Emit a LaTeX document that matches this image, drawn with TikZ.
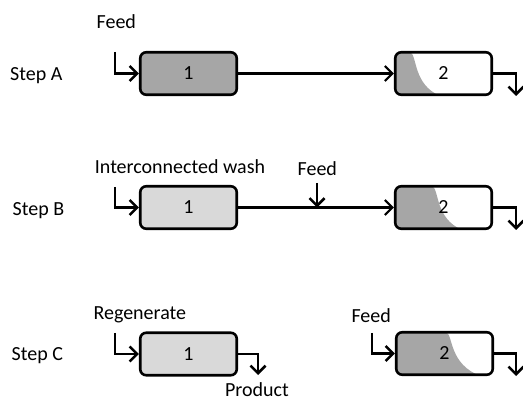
\documentclass[tikz,border=0pt]{standalone}
\usepackage{fontspec}
\setmainfont{Carlito}
\usetikzlibrary{arrows.meta,calc}
\definecolor{darkfill}{HTML}{A6A6A6}
\definecolor{lightfill}{HTML}{D9D9D9}
\tikzset{
  col/.style={draw=black, line width=2.6pt, rounded corners=6pt, minimum width=96.5pt,
    minimum height=42.5pt, inner sep=0pt, font=\fontsize{20}{24}\selectfont},
  flow/.style={line width=2.6pt, -{Straight Barb[length=7.5pt,width=15pt]}},
  link/.style={line width=2.2pt, -{Straight Barb[length=7.5pt,width=15pt]}},
  lbl/.style={font=\fontsize{20}{24}\selectfont, inner sep=0pt, anchor=base},
  steplbl/.style={font=\fontsize{20}{24}\selectfont, inner sep=0pt, anchor=base west},
  shadebox/.style 2 args={fill=white, path picture={
    \fill[darkfill]
      ($(path picture bounding box.north west)+(#1,-3)$)
      .. controls ($(path picture bounding box.north west)+(#1+12,4)$)
      and ($(path picture bounding box.north west)+(#1+8,32)$)
      .. ($(path picture bounding box.north west)+(#2,46)$)
      -- ($(path picture bounding box.north west)+(-4,46)$)
      -- ($(path picture bounding box.north west)+(-4,-3)$) -- cycle;}}
}
\begin{document}
\begin{tikzpicture}[x=1pt,y=-1pt]
\useasboundingbox (0,0) rectangle (523,401);

% Step A
\node[steplbl] (stepA) at (10,80.5) {Step A};
\node[lbl] (feedA) at (116.3,28.3) {Feed};
\node[col, fill=darkfill] (a1) at (188.5,73.5) {1};
\node[col, shadebox={10}{50}] (a2) at (443.5,73.5) {2};
\coordinate (ainA) at (115,52);
\coordinate (aoutA) at (516,96);
\draw[flow] (ainA) |- (a1.west);
\draw[link] (a1.east) -- (a2.west);
\draw[flow] (a2.east) -| (aoutA);

% Step B
\node[steplbl] (stepB) at (12.5,216) {Step B};
\node[lbl] (washB) at (180,173.3) {Interconnected wash};
\node[lbl] (feedB) at (317.3,175.5) {Feed};
\node[col, fill=lightfill] (b1) at (188.5,207.5) {1};
\node[col, shadebox={32}{72}] (b2) at (443.5,207.5) {2};
\coordinate (binB) at (115,187);
\coordinate (bfeedB) at (317,183);
\coordinate (boutB) at (516,230);
\draw[flow] (binB) |- (b1.west);
\draw[link] (b1.east) -- (b2.west);
\draw[flow] (bfeedB) -- (bfeedB |- b1.east);
\draw[flow] (b2.east) -| (boutB);

% Step C
\node[steplbl] (stepC) at (11.5,360.5) {Step C};
\node[lbl] (regenC) at (139.8,319.3) {Regenerate};
\node[lbl] (prodC) at (257,396.5) {Product};
\node[lbl] (feedC) at (371.2,322.7) {Feed};
\node[col, fill=lightfill] (c1) at (188.5,354) {1};
\node[col, shadebox={45}{90}] (c2) at (444.5,353.5) {2};
\coordinate (cinC) at (115,333);
\coordinate (cprodC) at (258,375);
\coordinate (cfeedC) at (372,333);
\coordinate (coutC) at (516,376);
\draw[flow] (cinC) |- (c1.west);
\draw[flow] (c1.east) -| (cprodC);
\draw[flow] (cfeedC) |- (c2.west);
\draw[flow] (c2.east) -| (coutC);
\end{tikzpicture}
\end{document}
